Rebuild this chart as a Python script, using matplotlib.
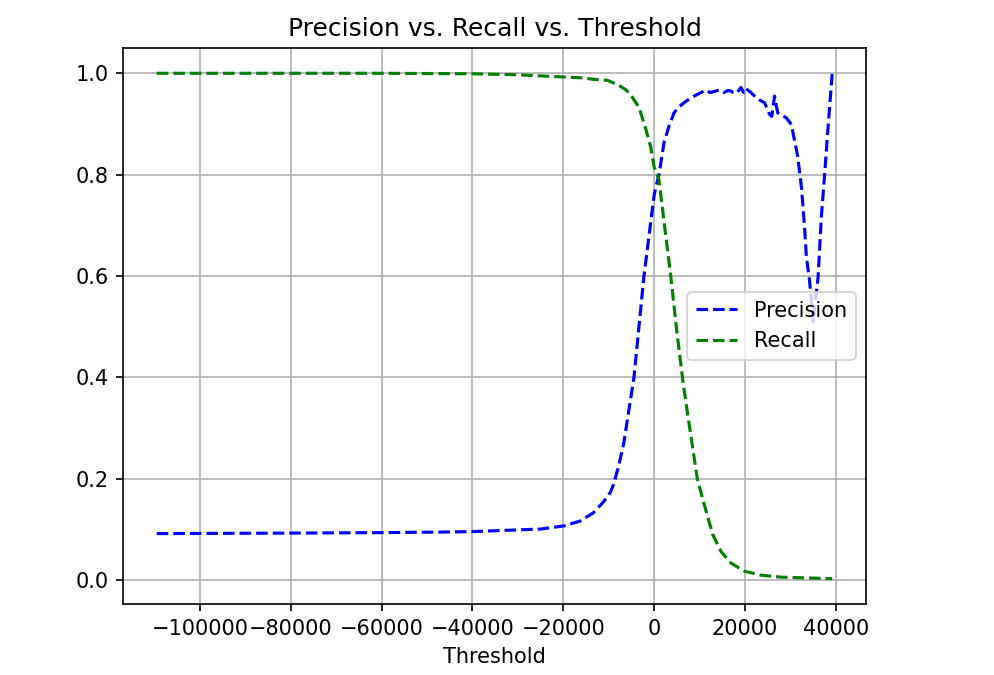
"""
Precision and recall of the classifier against the decision threshold.
"""
import matplotlib
matplotlib.use("Agg")
import matplotlib.pyplot as plt

# values
prec_thresh = [-109500, -80000, -60000, -47000, -40000, -25000, -20000, -16200,
               -13400, -11200, -9600, -8900, -7800, -6700, -4450, -2250,
               0, 330, 1060, 2170, 3270, 4380, 5500, 6590, 7700, 8800,
               10100, 11400, 12300, 13200, 14300, 15400, 16200, 16900, 17500,
               18000, 18600, 19100, 19700, 20200, 21300, 22800, 24300, 25400,
               25900, 26500, 27200, 29100, 30200, 31600, 32400, 33100, 33500,
               34200, 35000, 36100, 36800, 37500, 38300, 39200]
precision = [0.092, 0.093, 0.094, 0.095, 0.096, 0.101, 0.107, 0.117,
             0.133, 0.154, 0.174, 0.190, 0.226, 0.270, 0.400, 0.600,
             0.760, 0.774, 0.800, 0.863, 0.896, 0.922, 0.934, 0.942, 0.949, 0.955,
             0.961, 0.967, 0.962, 0.964, 0.967, 0.962, 0.966, 0.965, 0.961,
             0.960, 0.966, 0.972, 0.962, 0.970, 0.962, 0.949, 0.942, 0.919,
             0.915, 0.955, 0.922, 0.912, 0.899, 0.836, 0.777, 0.698, 0.638,
             0.592, 0.510, 0.599, 0.717, 0.797, 0.896, 1.000]

rec_thresh = [-109500, -80000, -60000, -40000, -30000, -20700, -16000, -13300,
              -10300, -8100, -6300, -5200, -3350, -1900, -770, 0, 1060, 2000,
              3650, 5000, 6450, 7700, 9500, 11000, 12900, 14700, 16900, 19800,
              23500, 28000, 32000, 36100, 39200]
recall = [1.000, 1.000, 1.000, 0.999, 0.997, 0.993, 0.991, 0.988,
          0.986, 0.978, 0.968, 0.958, 0.933, 0.892, 0.855, 0.815, 0.790, 0.720,
          0.600, 0.490, 0.384, 0.308, 0.200, 0.150, 0.090, 0.057, 0.034, 0.018,
          0.010, 0.006, 0.005, 0.004, 0.003]


def main():
	fig = plt.figure(figsize=(994 / 150.0, 675 / 150.0), dpi=150)
	ax = fig.add_subplot(111)
	fig.subplots_adjust(left=123 / 994.0, right=866 / 994.0,
						top=1 - 48 / 675.0, bottom=1 - 604 / 675.0)

	ax.plot(prec_thresh, precision, "b--", label="Precision")
	ax.plot(rec_thresh, recall, "g--", label="Recall")

	ax.set_xlabel("Threshold")
	ax.set_title("Precision vs. Recall vs. Threshold")
	ax.legend(loc="center right")
	ax.grid(True)

	fig.savefig("out.png", dpi=150)
	return


if __name__ == "__main__":
	main()
